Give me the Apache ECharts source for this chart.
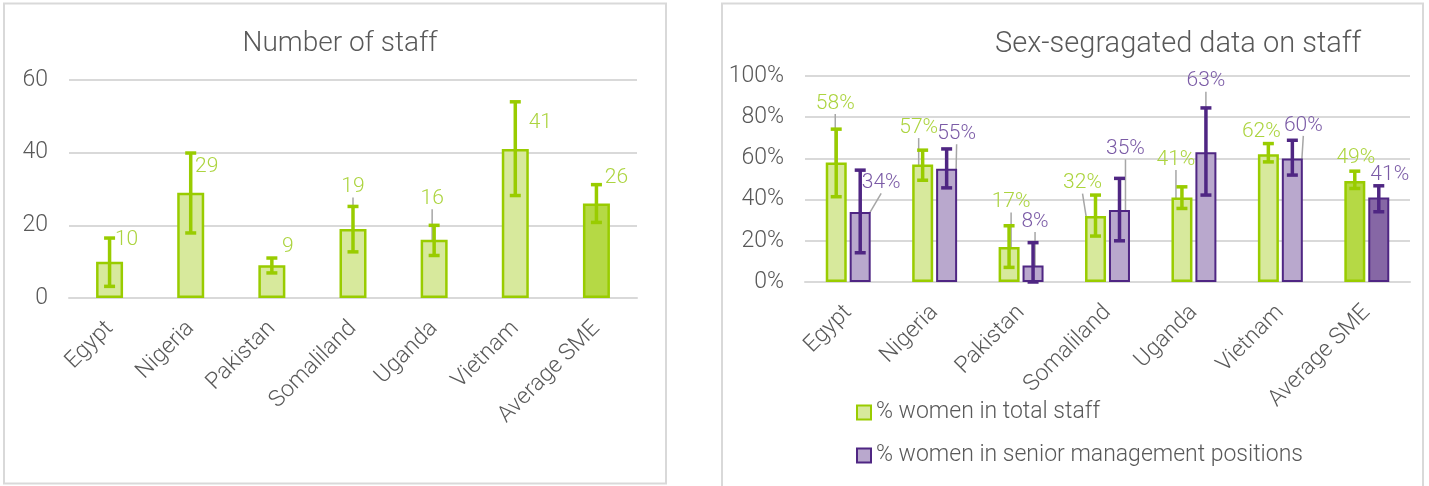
<!DOCTYPE html>
<html>
<head>
<meta charset="utf-8">
<title>Staff charts</title>
<script src="https://cdn.jsdelivr.net/npm/echarts@6/dist/echarts.min.js"></script>
<style>
  html, body { margin: 0; padding: 0; background: #fff; }
  #chart { width: 1429px; height: 486px; }
</style>
</head>
<body>
<div id="chart"></div>
<script>
// categories
var countries = ['Egypt', 'Nigeria', 'Pakistan', 'Somaliland', 'Uganda', 'Vietnam', 'Average SME'];

// left chart: number of staff with error range
var staffCount = [10, 29, 9, 19, 16, 41, 26];
var staffLow = [3.2, 17.9, 6.9, 12.7, 11.7, 28.2, 20.8];
var staffHigh = [16.5, 39.9, 11, 25.2, 20, 54, 31.2];
var staffTicks = { min: 0, max: 60, interval: 20 };

// right chart: % women (total staff / senior management) with error range
var womenTotal = [58, 57, 17, 32, 41, 62, 49];
var womenTotalLow = [41.4, 49.4, 7.1, 22.3, 35.7, 58.3, 45.4];
var womenTotalHigh = [74.2, 64, 27.3, 42.2, 46.2, 67.2, 53.8];
var womenSenior = [34, 55, 8, 35, 63, 60, 41];
var womenSeniorLow = [14.2, 45.7, 0, 20, 42.2, 51.9, 34.1];
var womenSeniorHigh = [54.3, 64.6, 19.1, 50.3, 84.5, 68.8, 46.7];
var shareTicks = { min: 0, max: 100, interval: 20 };

// label nudges (px, relative to bar top centre) and which labels get a leader line
var staffLabelShift = [[17, -22], [16, -26], [16, -19], [0, -42], [-2, -41], [25, -26], [20, -26]];
var staffGuides = [3, 4];
var totalLabelShift = [[-1, -59], [-4, -37], [2, -45], [-13, -33], [-6, -38], [-7, -23], [1, -23]];
var totalGuides = [0, 1, 2, 3, 4];
var seniorLabelShift = [[21, -29], [10, -35], [2, -44], [6, -61], [0, -71], [11, -33], [11, -23]];
var seniorGuides = [0, 1, 2, 3, 4, 5];

var FONT = 'Roboto';
var GREY_TXT = '#595959';
var GRID_LINE = '#d9d9d9';
var GREEN = '#99cc00', GREEN_FILL = '#d7e99c', GREEN_AVG = '#b5d945', GREEN_TXT = '#acd43f';
var PURPLE = '#4f2683', PURPLE_FILL = '#b9a8cd', PURPLE_AVG = '#8667a5', PURPLE_TXT = '#7b5ba6';

var chart = echarts.init(document.getElementById('chart'));

// bar data items: last one (Average SME) gets the darker fill
function barItems(values, avgFill, guides) {
  return values.map(function (v, i) {
    var item = { value: v };
    if (i === values.length - 1) {
      item.itemStyle = { color: avgFill };
    }
    if (guides.indexOf(i) >= 0) {
      item.labelLine = { show: true };
    }
    return item;
  });
}

function shiftLayout(shifts) {
  return function (p) {
    var s = shifts[p.dataIndex];
    return {
      x: p.rect.x + p.rect.width / 2 + s[0],
      y: p.rect.y + s[1],
      align: 'center',
      verticalAlign: 'middle'
    };
  };
}

// error bars drawn as a custom series; offset moves them onto grouped bars
function errorBars(name, low, high, color, axis, offset) {
  return {
    type: 'custom',
    name: name + ' error',
    xAxisIndex: axis,
    yAxisIndex: axis,
    z: 4,
    silent: true,
    data: low.map(function (l, i) { return [i, l, high[i]]; }),
    renderItem: function (params, api) {
      var lo = api.coord([api.value(0), api.value(1)]);
      var hi = api.coord([api.value(0), api.value(2)]);
      var x = lo[0] + offset;
      var cap = 5.5;
      var st = { stroke: color, lineWidth: 3.5 };
      return {
        type: 'group',
        children: [
          { type: 'line', shape: { x1: x, y1: lo[1], x2: x, y2: hi[1] }, style: st },
          { type: 'line', shape: { x1: x - cap, y1: hi[1], x2: x + cap, y2: hi[1] }, style: st },
          { type: 'line', shape: { x1: x - cap, y1: lo[1], x2: x + cap, y2: lo[1] }, style: st }
        ]
      };
    }
  };
}

function categoryAxis(grid) {
  return {
    type: 'category',
    gridIndex: grid,
    data: countries,
    axisLine: { show: true, lineStyle: { color: GRID_LINE, width: 2 } },
    axisTick: { show: false },
    axisLabel: { rotate: 45, margin: 27, color: GREY_TXT, fontFamily: FONT, fontWeight: 300, fontSize: 23, interval: 0 }
  };
}

function valueAxis(grid, ticks, fmt) {
  return {
    type: 'value',
    gridIndex: grid,
    min: ticks.min,
    max: ticks.max,
    interval: ticks.interval,
    axisLine: { show: false },
    axisTick: { show: false },
    splitLine: { lineStyle: { color: GRID_LINE, width: 2 } },
    axisLabel: { margin: 21, color: GREY_TXT, fontFamily: FONT, fontWeight: 300, fontSize: 23, formatter: fmt }
  };
}

var labelFont = { fontFamily: FONT, fontWeight: 300, fontSize: 21 };

var option = {
  animation: false,
  textStyle: { fontFamily: FONT },
  title: [{
    text: 'Number of staff',
    left: 335, top: 25, textAlign: 'center',
    textStyle: { color: GREY_TXT, fontFamily: FONT, fontWeight: 300, fontSize: 28 }
  }, {
    text: 'Sex-segragated data on staff',
    left: 1173, top: 25, textAlign: 'center',
    textStyle: { color: GREY_TXT, fontFamily: FONT, fontWeight: 300, fontSize: 29 }
  }],
  graphic: [
    { type: 'rect', shape: { x: 4, y: 3.5, width: 662, height: 480 }, style: { fill: 'none', stroke: GRID_LINE, lineWidth: 2 }, z: -1 },
    { type: 'rect', shape: { x: 722, y: 3.5, width: 701, height: 495 }, style: { fill: 'none', stroke: GRID_LINE, lineWidth: 2 }, z: -1 }
  ],
  legend: {
    data: ['% women in total staff', '% women in senior management positions'],
    orient: 'vertical',
    left: 851, top: 396,
    itemWidth: 14, itemHeight: 14,
    itemGap: 20,
    icon: 'rect',
    textStyle: { color: GREY_TXT, fontFamily: FONT, fontWeight: 300, fontSize: 23 }
  },
  grid: [
    { left: 69, right: 792, top: 80, bottom: 188 },
    { left: 805, right: 19, top: 76, bottom: 204 }
  ],
  xAxis: [categoryAxis(0), categoryAxis(1)],
  yAxis: [valueAxis(0, staffTicks), valueAxis(1, shareTicks, '{value}%')],
  series: [
    {
      type: 'bar',
      name: 'Number of staff',
      xAxisIndex: 0, yAxisIndex: 0,
      barWidth: 27,
      data: barItems(staffCount, GREEN_AVG, staffGuides),
      itemStyle: { color: GREEN_FILL, borderColor: GREEN, borderWidth: 2.5 },
      label: Object.assign({ show: true, position: 'top', color: GREEN_TXT }, labelFont),
      labelLayout: shiftLayout(staffLabelShift),
      labelLine: { show: false, lineStyle: { color: '#a6a6a6', width: 1.5 } }
    },
    errorBars('Number of staff', staffLow, staffHigh, GREEN, 0, 0),
    {
      type: 'bar',
      name: '% women in total staff',
      xAxisIndex: 1, yAxisIndex: 1,
      barWidth: 21, barGap: '14%',
      data: barItems(womenTotal, GREEN_AVG, totalGuides),
      itemStyle: { color: GREEN_FILL, borderColor: GREEN, borderWidth: 2.5 },
      label: Object.assign({ show: true, position: 'top', color: GREEN_TXT, formatter: '{c}%' }, labelFont),
      labelLayout: shiftLayout(totalLabelShift),
      labelLine: { show: false, lineStyle: { color: '#a6a6a6', width: 1.5 } }
    },
    {
      type: 'bar',
      name: '% women in senior management positions',
      xAxisIndex: 1, yAxisIndex: 1,
      barWidth: 21, barGap: '14%',
      data: barItems(womenSenior, PURPLE_AVG, seniorGuides),
      itemStyle: { color: PURPLE_FILL, borderColor: PURPLE, borderWidth: 2 },
      label: Object.assign({ show: true, position: 'top', color: PURPLE_TXT, formatter: '{c}%' }, labelFont),
      labelLayout: shiftLayout(seniorLabelShift),
      labelLine: { show: false, lineStyle: { color: '#a6a6a6', width: 1.5 } }
    },
    errorBars('% women in total staff', womenTotalLow, womenTotalHigh, GREEN, 1, -12),
    errorBars('% women in senior management positions', womenSeniorLow, womenSeniorHigh, PURPLE, 1, 12)
  ]
};

chart.setOption(option);
</script>
</body>
</html>
